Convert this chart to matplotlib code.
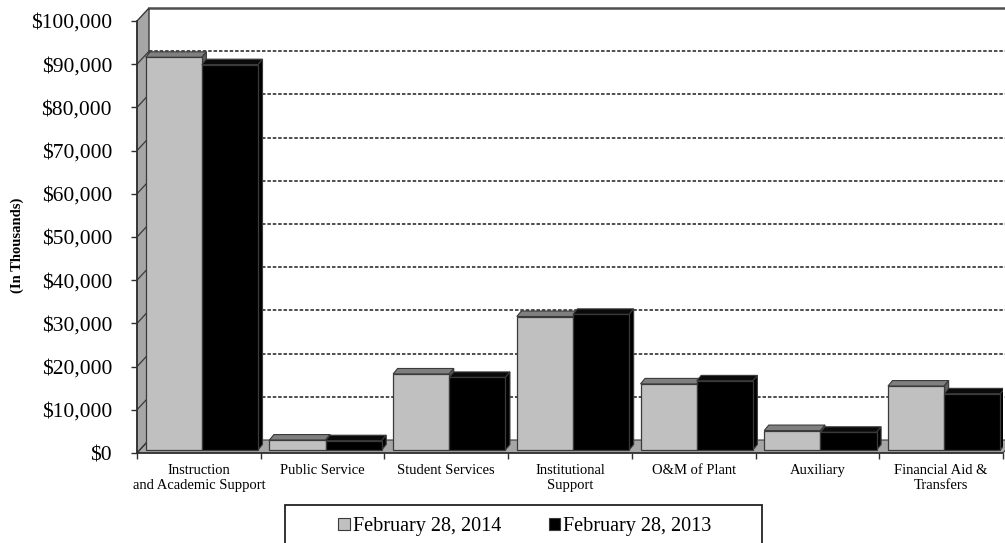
import matplotlib
matplotlib.use("Agg")
import matplotlib.pyplot as plt
from matplotlib.patches import Polygon, Rectangle, Patch
from matplotlib.ticker import FuncFormatter

plt.rcParams['font.family'] = ['Liberation Serif', 'DejaVu Serif']

categories = ["Instruction\nand Academic Support", "Public Service", "Student Services",
              "Institutional\nSupport", "O&M of Plant", "Auxiliary",
              "Financial Aid &\nTransfers"]
feb_2014 = [90900, 2300, 17600, 30900, 15300, 4500, 14800]
feb_2013 = [89200, 2150, 16800, 31400, 16000, 4100, 13000]
series_names = ["February 28, 2014", "February 28, 2013"]
y_ticks = list(range(0, 100001, 10000))

fig = plt.figure(figsize=(10.05, 5.43), dpi=100)
ax = fig.add_axes([137 / 1005, 90 / 543, 866 / 1005, 432 / 543])
ax.set_facecolor('none')
n = len(categories)
ymax = 100000
ax.set_xlim(0, n)
ax.set_ylim(0, ymax)

# size of one pixel in data units, used for the fake 3d depth
W, H = fig.get_size_inches() * fig.dpi
pos = ax.get_position()
ux = n / (pos.width * W)
uy = ymax / (pos.height * H)

wall_dx, wall_dy = 12 * ux, 13 * uy
set_dx, set_dy = 3 * ux, 3 * uy
bar_dx, bar_dy = 4.5 * ux, 5.5 * uy
edge = '#3a3a3a'

# back wall grid
for v in y_ticks[1:-1]:
    ax.plot([wall_dx, n + wall_dx], [v + wall_dy, v + wall_dy], color='#383838',
            lw=1.25, ls=(0, (2.0, 1.1)), zorder=1, clip_on=False)
    ax.plot([0, wall_dx], [v, v + wall_dy], color=edge, lw=0.9, zorder=3)
ax.plot([wall_dx, n + wall_dx], [ymax + wall_dy, ymax + wall_dy], color='#505050',
        lw=1.8, zorder=1, clip_on=False)

# side wall and floor
ax.add_patch(Polygon([(0, 0), (0, ymax), (wall_dx, ymax + wall_dy), (wall_dx, wall_dy)],
                     closed=True, facecolor='#a6a6a6', edgecolor=edge, lw=1.0,
                     zorder=2, clip_on=False))
ax.add_patch(Polygon([(0, 0), (n, 0), (n + wall_dx, wall_dy), (wall_dx, wall_dy)],
                     closed=True, facecolor='#a6a6a6', edgecolor=edge, lw=0.8,
                     zorder=2, clip_on=False))
ax.plot([0, wall_dx], [0, wall_dy], color=edge, lw=0.9, zorder=3)

gap = 0.046
bw = (1 - 2 * gap) / 2
styles = [
    dict(front='#c0c0c0', top='#7f7f7f', side='#5e5e5e'),
    dict(front='#000000', top='#0a0a0a', side='#000000'),
]

z = 4
for i in range(n):
    for k, vals in enumerate([feb_2014, feb_2013]):
        st = styles[k]
        v = vals[i]
        x0 = i + gap + k * bw + set_dx
        x1 = x0 + bw
        y0 = set_dy
        y1 = set_dy + v
        ax.add_patch(Polygon([(x0, y1), (x1, y1), (x1 + bar_dx, y1 + bar_dy),
                              (x0 + bar_dx, y1 + bar_dy)], closed=True,
                             facecolor=st['top'], edgecolor=edge, lw=0.8, zorder=z))
        ax.add_patch(Polygon([(x1, y0), (x1, y1), (x1 + bar_dx, y1 + bar_dy),
                              (x1 + bar_dx, y0 + bar_dy)], closed=True,
                             facecolor=st['side'], edgecolor=edge, lw=0.8, zorder=z))
        ax.bar(x0, v, width=bw, bottom=y0, align='edge', color=st['front'],
               edgecolor=edge, linewidth=0.9, zorder=z + 1)
        z += 2

# axes, ticks and labels
for s in ['top', 'right']:
    ax.spines[s].set_visible(False)
for s in ['left', 'bottom']:
    ax.spines[s].set_color('#303030')
    ax.spines[s].set_linewidth(1.2)
    ax.spines[s].set_zorder(50)

ax.set_yticks(y_ticks)
ax.yaxis.set_major_formatter(FuncFormatter(lambda v, p: '${:,.0f}'.format(v)))
ax.tick_params(axis='y', direction='out', length=4, width=1, color='#303030',
               labelsize=15.5, pad=14)
ax.set_xticks(range(n + 1))
ax.set_xticklabels([])
ax.set_xticks([i + 0.5 for i in range(n)], minor=True)
ax.set_xticklabels(categories, minor=True, fontsize=10.5, linespacing=1.22)
ax.tick_params(axis='x', which='major', direction='out', length=4, width=1,
               color='#303030')
ax.tick_params(axis='x', which='minor', length=0, pad=8)

fig.text(17 / 1005, 1 - 245 / 543, "(In Thousands)", rotation=90, fontsize=10.5,
         fontweight='bold', ha='center', va='center')

# legend with its frame running off the bottom
fig.add_artist(Rectangle((285 / 1005, -0.1), 477 / 1005, 0.1 + 38 / 543,
                         transform=fig.transFigure, fill=False,
                         edgecolor='#222222', lw=1.3))
handles = [Patch(facecolor=styles[0]['front'], edgecolor=edge, lw=0.8),
           Patch(facecolor=styles[1]['front'], edgecolor=edge, lw=0.8)]
fig.legend(handles, series_names, loc='center', bbox_to_anchor=(525 / 1005, 16 / 543),
           ncol=2, frameon=False, fontsize=14.5, handlelength=0.55, handleheight=0.55,
           handletextpad=0.15, columnspacing=2.4, borderpad=0)

fig.savefig('out.png', dpi=100)
